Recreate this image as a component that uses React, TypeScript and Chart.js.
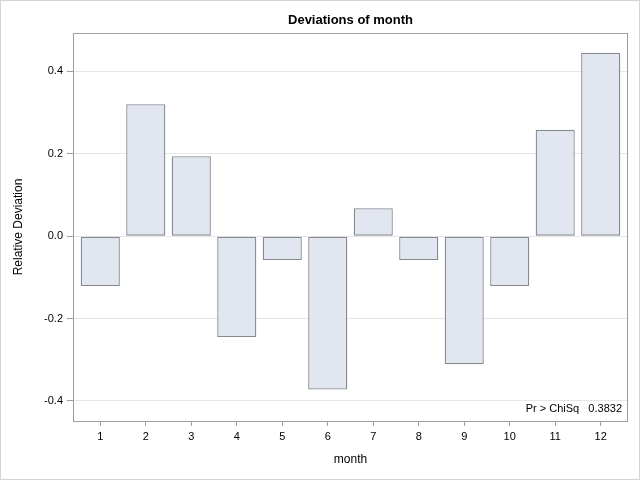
import React, { useEffect, useRef } from "react";
import { Chart, registerables } from "chart.js";

Chart.register(...registerables);

const months: number[] = [1, 2, 3, 4, 5, 6, 7, 8, 9, 10, 11, 12];
const deviations: number[] = [-0.121, 0.32, 0.194, -0.245, -0.058, -0.372, 0.068, -0.058, -0.311, -0.121, 0.258, 0.445];
const yTicks: number[] = [-0.4, -0.2, 0.0, 0.2, 0.4];
const titleText = "Deviations of month";
const xTitle = "month";
const yTitle = "Relative Deviation";
const insetLabel = "Pr > ChiSq";
const insetValue = "0.3832";

const FONT = "'Liberation Sans', Arial, sans-serif";

const framePlugin = {
  id: "frame",
  beforeDraw(chart: any) {
    const { ctx, width, height } = chart;
    ctx.save();
    ctx.fillStyle = "#ffffff";
    ctx.fillRect(0, 0, width, height);
    ctx.strokeStyle = "#d4d4d4";
    ctx.lineWidth = 1;
    ctx.strokeRect(0.5, 0.5, width - 1, height - 1);
    ctx.restore();
  },
  afterDraw(chart: any) {
    const { ctx, chartArea } = chart;
    const { left, top, right, bottom } = chartArea;
    ctx.save();
    ctx.font = `11px ${FONT}`;
    const txt = insetLabel + "   " + insetValue;
    const w = ctx.measureText(txt).width;
    const tx = right - 6;
    const ty = bottom - 12;
    ctx.fillStyle = "#ffffff";
    ctx.fillRect(tx - w - 4, ty - 8, w + 8, 16);
    ctx.fillStyle = "#000000";
    ctx.textAlign = "right";
    ctx.textBaseline = "middle";
    ctx.fillText(txt, tx, ty);
    ctx.strokeStyle = "#9a9ea4";
    ctx.lineWidth = 1;
    ctx.strokeRect(Math.round(left) + 0.5, Math.round(top) + 0.5, Math.round(right - left) - 1, Math.round(bottom - top));
    ctx.restore();
  },
};

export default function App() {
  const ref = useRef<HTMLCanvasElement>(null);
  useEffect(() => {
    if (!ref.current) return;
    const chart = new Chart(ref.current, {
      type: "bar",
      data: {
        datasets: [
          {
            data: months.map((m, i) => ({ x: m, y: deviations[i] })),
            backgroundColor: "#e1e6f0",
            borderColor: "#868a90",
            borderWidth: 1.3,
            borderSkipped: false,
            barPercentage: 0.86,
            categoryPercentage: 1,
          },
        ],
      },
      plugins: [framePlugin],
      options: {
        animation: false,
        responsive: false,
        layout: { padding: { left: 0, right: 12, top: 0, bottom: 0 } },
        plugins: {
          legend: { display: false },
          tooltip: { enabled: false },
          title: {
            display: true,
            text: titleText,
            fullSize: false,
            color: "#000000",
            font: { family: FONT, size: 13, weight: "bold" },
            padding: { top: 13, bottom: 4.4 },
          },
        },
        scales: {
          x: {
            type: "linear",
            offset: false,
            min: 0.4,
            max: 12.6,
            afterBuildTicks: (axis: any) => {
              axis.ticks = months.map((v) => ({ value: v }));
            },
            afterFit: (scale: any) => {
              scale.height = 59;
            },
            ticks: {
              color: "#000000",
              font: { family: FONT, size: 11 },
              padding: 4,
              maxRotation: 0,
              callback: (v: any) => String(v),
            },
            grid: {
              display: true,
              offset: false,
              drawOnChartArea: false,
              drawTicks: true,
              tickLength: 5,
              tickColor: "#9a9ea4",
            },
            border: { display: false },
            title: {
              display: true,
              text: xTitle,
              color: "#000000",
              font: { family: FONT, size: 12 },
              padding: { top: 0, bottom: 12.8 },
            },
          },
          y: {
            type: "linear",
            min: -0.4486,
            max: 0.493,
            afterBuildTicks: (axis: any) => {
              axis.ticks = yTicks.map((v) => ({ value: v }));
            },
            afterFit: (scale: any) => {
              scale.width = 73;
            },
            ticks: {
              color: "#000000",
              font: { family: FONT, size: 11 },
              padding: 4,
              callback: (v: any) => Number(v).toFixed(1),
            },
            grid: {
              color: "#e6e6e6",
              drawTicks: true,
              tickLength: 6,
              tickColor: "#9a9ea4",
            },
            border: { display: false },
            title: {
              display: true,
              text: yTitle,
              color: "#000000",
              font: { family: FONT, size: 12 },
              padding: { top: 11, bottom: 0 },
            },
          },
        },
      },
    });
    return () => chart.destroy();
  }, []);
  return (
    <div style={{ position: "fixed", left: 0, top: 0, width: 640, height: 480 }}>
      <canvas ref={ref} width={640} height={480} style={{ width: 640, height: 480 }} />
    </div>
  );
}
